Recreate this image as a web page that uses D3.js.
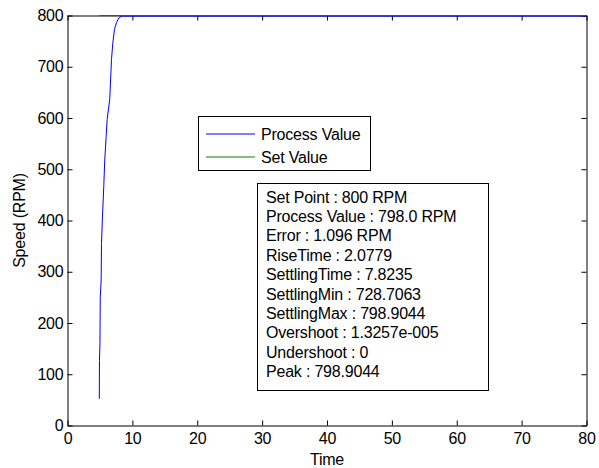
<!DOCTYPE html>
<html>
<head>
<meta charset="utf-8">
<script src="https://cdn.jsdelivr.net/npm/d3@7/dist/d3.min.js"></script>
<style>
  html, body { margin: 0; padding: 0; background: #fff; }
  svg { display: block; }
  text { font-family: "Liberation Sans", Arial, sans-serif; fill: #000; }
</style>
</head>
<body>
<svg id="chart" width="599" height="468"></svg>
<script>
// ---- data ----
const pvTime  = [4.9, 4.93, 5.0, 5.05, 5.19, 5.24, 5.39, 5.59, 5.74, 5.96, 6.11, 6.51, 6.62, 6.78, 6.98, 7.24, 7.55, 7.90, 8.42, 80];
const pvSpeed = [52, 127, 160, 250, 284, 355, 407, 466, 518, 564, 597, 636, 668, 714, 746, 773, 786, 795, 798.9, 798.9];
const svTime  = [4.9, 80];
const svSpeed = [800, 800];
const xTicks = [0, 10, 20, 30, 40, 50, 60, 70, 80];
const yTicks = [0, 100, 200, 300, 400, 500, 600, 700, 800];
const legendLabels = ["Process Value", "Set Value"];
const seriesColors = ["#0000ff", "#008000"];
const infoLines = [
  "Set Point : 800 RPM",
  "Process Value : 798.0 RPM",
  "Error : 1.096 RPM",
  "RiseTime : 2.0779",
  "SettlingTime : 7.8235",
  "SettlingMin : 728.7063",
  "SettlingMax : 798.9044",
  "Overshoot : 1.3257e-005",
  "Undershoot : 0",
  "Peak : 798.9044"
];

// ---- layout ----
const L = 67.5, R = 586.5, T = 15.5, B = 425.5;
const svg = d3.select("#chart");
const x = d3.scaleLinear().domain([0, 80]).range([L, R]);
const y = d3.scaleLinear().domain([0, 800]).range([B, T]);
const fs = "16px";
const ls = "-0.2px";

// axes
const gx = svg.append("g").attr("transform", `translate(0,${B})`)
  .call(d3.axisBottom(x).tickValues(xTicks).tickSizeInner(-5).tickSizeOuter(0).tickPadding(7));
const gy = svg.append("g").attr("transform", `translate(${L},0)`)
  .call(d3.axisLeft(y).tickValues(yTicks).tickSizeInner(-5).tickSizeOuter(0).tickPadding(4));
const gt = svg.append("g").attr("transform", `translate(0,${T})`)
  .call(d3.axisTop(x).tickValues(xTicks).tickSizeInner(-5).tickSizeOuter(0).tickFormat(""));
const gr = svg.append("g").attr("transform", `translate(${R},0)`)
  .call(d3.axisRight(y).tickValues(yTicks).tickSizeInner(-5).tickSizeOuter(0).tickFormat(""));
[gx, gy, gt, gr].forEach(g => {
  g.selectAll("path.domain").attr("stroke", "#000").attr("stroke-width", 1);
  g.selectAll("line").attr("stroke", "#000");
  g.selectAll("text").attr("font-size", fs).attr("font-family", "Liberation Sans, Arial, sans-serif").attr("fill", "#000").style("letter-spacing", ls);
});

// lines
const line = d3.line().x(d => x(d[0])).y(d => y(d[1]));
svg.append("path").datum(d3.zip(pvTime, pvSpeed))
  .attr("d", line).attr("fill", "none").attr("stroke", seriesColors[0]).attr("stroke-width", 1);
svg.append("path").datum(d3.zip(svTime, svSpeed))
  .attr("d", line).attr("fill", "none").attr("stroke", seriesColors[1]).attr("stroke-width", 1.2);

// axis labels
svg.append("text").attr("x", (L + R) / 2).attr("y", 465).attr("text-anchor", "middle")
  .attr("font-size", fs).style("letter-spacing", ls).text("Time");
svg.append("text").attr("transform", `translate(25,${(T + B) / 2}) rotate(-90)`).attr("text-anchor", "middle")
  .attr("font-size", fs).style("letter-spacing", ls).text("Speed (RPM)");

// legend
const lg = svg.append("g");
lg.append("rect").attr("x", 198.5).attr("y", 116.5).attr("width", 172).attr("height", 54)
  .attr("fill", "#fff").attr("stroke", "#000");
legendLabels.forEach((lab, i) => {
  const yy = 134 + i * 23;
  lg.append("line").attr("x1", 206).attr("x2", 255).attr("y1", yy).attr("y2", yy)
    .attr("stroke", seriesColors[i]).attr("stroke-width", 1);
  lg.append("text").attr("x", 261).attr("y", yy + 5.5).attr("font-size", fs)
    .style("letter-spacing", ls).text(lab);
});

// info box
const ib = svg.append("g");
ib.append("rect").attr("x", 257.5).attr("y", 183.5).attr("width", 231).attr("height", 207)
  .attr("fill", "#fff").attr("stroke", "#000");
infoLines.forEach((t, i) => {
  ib.append("text").attr("x", 266).attr("y", 202.5 + i * 19.4).attr("font-size", fs)
    .style("letter-spacing", ls).text(t);
});
</script>
</body>
</html>
